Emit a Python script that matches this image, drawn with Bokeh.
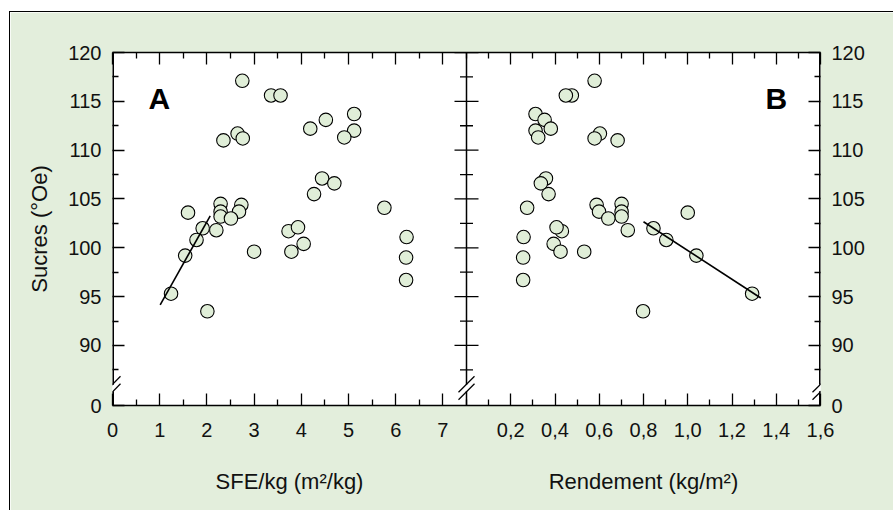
from bokeh.plotting import figure
from bokeh.models import Range1d, LinearAxis, FixedTicker, Label, CustomJSTickFormatter
from bokeh.embed import file_html
from bokeh.resources import INLINE

# ---------------- data ----------------
sfe_kg = [2.75, 3.36, 3.56, 5.12, 4.52, 4.19, 5.12, 4.91, 2.65, 2.76, 2.35, 4.44, 4.70, 4.27,
          5.76, 2.29, 2.29, 2.29, 2.73, 2.68, 2.51, 1.60, 1.91, 2.20, 1.78, 3.73, 3.93, 4.05,
          3.79, 3.00, 6.23, 1.54, 6.22, 6.22, 1.24, 2.01]
rendement = [0.579, 0.476, 0.449, 0.312, 0.353, 0.381, 0.312, 0.324, 0.603, 0.579, 0.683, 0.359,
             0.336, 0.371, 0.274, 0.701, 0.701, 0.701, 0.588, 0.599, 0.641, 1.000, 0.845, 0.729,
             0.903, 0.431, 0.407, 0.394, 0.425, 0.532, 0.258, 1.039, 0.256, 0.256, 1.291, 0.798]
sucres = [117.1, 115.6, 115.6, 113.7, 113.1, 112.2, 112.0, 111.3, 111.7, 111.2, 111.0, 107.1,
          106.6, 105.5, 104.1, 104.5, 103.7, 103.2, 104.4, 103.7, 103.0, 103.6, 102.0, 101.8,
          100.8, 101.7, 102.1, 100.4, 99.6, 99.6, 101.1, 99.2, 99.0, 96.7, 95.3, 93.5]

fitA_x = [1.01, 2.07]
fitA_y = [94.15, 103.28]
fitB_x = [0.80, 1.33]
fitB_y = [102.67, 94.86]

y_ticks = [90, 95, 100, 105, 110, 115, 120]
y_minor = [87.5, 92.5, 97.5, 102.5, 107.5, 112.5, 117.5]
y_break_label = "0"
xa_ticks = [0, 1, 2, 3, 4, 5, 6, 7]
xa_minor = [0.5, 1.5, 2.5, 3.5, 4.5, 5.5, 6.5]
xb_ticks = [0.2, 0.4, 0.6, 0.8, 1.0, 1.2, 1.4, 1.6]
xb_minor = [0.1, 0.3, 0.5, 0.7, 0.9, 1.1, 1.3, 1.5]
xb_labels = ["0,2", "0,4", "0,6", "0,8", "1,0", "1,2", "1,4", "1,6"]
x_titles = ["SFE/kg (m²/kg)", "Rendement (kg/m²)"]
y_title = "Sucres (°Oe)"
panel_letters = ["A", "B"]

XA_MAX = 7.5
XB_MAX = 1.6
Y_MIN = 83.85   # bottom of the broken axis (labelled 0)
Y_MAX = 120

# ---------------- styling / layout ----------------
BG = "#e3eedc"
MARK = "#e0eed8"
FONT = "Liberation Sans"
TICK_FS = "20px"
LAB_FS = "22px"

OX, OY = 10, 12                 # page position of the outer box
FRAME_W, FRAME_H = 708, 353
FL, FT = 112, 52                # page position of the plotting frame
CW, CH = 893 - OX, 510 - OY
BL, BT = FL - OX, FT - OY
BR, BB = CW - BL - FRAME_W, CH - BT - FRAME_H
ppx = FRAME_W / (2 * XA_MAX)
ppy = FRAME_H / (Y_MAX - Y_MIN)


def dx(page_x):
    return (page_x - FL) / ppx


def dy(page_y):
    return Y_MAX - (page_y - FT) / ppy


def b2a(v):
    return XA_MAX + v * XA_MAX / XB_MAX


p = figure(frame_width=FRAME_W, frame_height=FRAME_H,
           min_border_left=BL, min_border_right=BR, min_border_top=BT, min_border_bottom=BB,
           x_range=Range1d(0, 2 * XA_MAX), y_range=Range1d(Y_MIN, Y_MAX),
           x_axis_location=None, y_axis_location=None,
           output_backend="svg", toolbar_location=None)
p.margin = (OY, 0, 0, OX)
p.styles = {"outline": "1.6px solid black"}
p.extra_x_ranges = {"b": Range1d(-XB_MAX, XB_MAX)}
p.grid.visible = False
p.outline_line_color = None
p.border_fill_color = BG
p.background_fill_color = "white"

# ---------------- axes ----------------
bot_pos = list(xa_ticks) + [b2a(v) for v in xb_ticks]
bot_lab = [str(v) for v in xa_ticks] + list(xb_labels)
bot_minor = list(xa_minor) + [XA_MAX] + [b2a(v) for v in xb_minor]
fmt_code = """
for (let i = 0; i < pos.length; i++) { if (Math.abs(pos[i] - tick) < 1e-6) return labs[i]; }
return '';
"""
left_pos = [Y_MIN] + list(y_ticks)
left_lab = [y_break_label] + [str(v) for v in y_ticks]


def style_axis(ax):
    ax.major_tick_in = 12
    ax.major_tick_out = 0
    ax.minor_tick_in = 6
    ax.minor_tick_out = 0
    ax.axis_line_width = 1.5
    ax.axis_line_color = "black"
    ax.major_tick_line_width = 1.3
    ax.minor_tick_line_width = 1.3
    ax.major_tick_line_color = "black"
    ax.minor_tick_line_color = "black"
    ax.major_label_text_font = FONT
    ax.major_label_text_font_size = TICK_FS
    ax.major_label_text_color = "#111111"


bottom = LinearAxis(ticker=FixedTicker(ticks=bot_pos, minor_ticks=bot_minor),
                    formatter=CustomJSTickFormatter(args=dict(pos=bot_pos, labs=bot_lab), code=fmt_code))
style_axis(bottom)
bottom.major_label_standoff = 17
p.add_layout(bottom, "below")

# axis titles of both panels, one under each panel
title_pos = [XA_MAX / 2, b2a(XB_MAX / 2)]
titles = LinearAxis(ticker=FixedTicker(ticks=title_pos, minor_ticks=[]),
                    formatter=CustomJSTickFormatter(args=dict(pos=title_pos, labs=x_titles), code=fmt_code))
titles.axis_line_color = None
titles.major_tick_line_color = None
titles.minor_tick_line_color = None
titles.major_label_text_font = FONT
titles.major_label_text_font_size = LAB_FS
titles.major_label_text_color = "#111111"
titles.major_label_standoff = 23
p.add_layout(titles, "below")

top = LinearAxis(ticker=FixedTicker(ticks=bot_pos, minor_ticks=bot_minor),
                 formatter=CustomJSTickFormatter(code="return '';"))
style_axis(top)
top.major_label_standoff = 0
p.add_layout(top, "above")

for side in ("left", "right"):
    ax = LinearAxis(ticker=FixedTicker(ticks=left_pos, minor_ticks=y_minor),
                    formatter=CustomJSTickFormatter(args=dict(pos=left_pos, labs=left_lab), code=fmt_code))
    style_axis(ax)
    ax.axis_line_color = None      # drawn below, with the break gap
    ax.major_label_standoff = 11
    if side == "left":
        ax.axis_label = y_title
        ax.axis_label_text_font = FONT
        ax.axis_label_text_font_size = LAB_FS
        ax.axis_label_text_font_style = "normal"
        ax.axis_label_text_color = "#111111"
        ax.axis_label_standoff = 13
    p.add_layout(ax, side)

# ---------------- vertical axis lines with breaks, divider ticks ----------------
BRK = (383.8, 391.3)                  # page y of the two break strokes
gap_hi, gap_lo = dy(BRK[0] + 0.5), dy(BRK[1] - 0.5)
for xa, w in ((0.0, 3.0), (XA_MAX, 1.5), (2 * XA_MAX, 3.0)):
    p.segment(x0=[xa, xa], y0=[Y_MIN, gap_hi], x1=[xa, xa], y1=[gap_lo, Y_MAX],
              line_color="black", line_width=w)
    cx = FL + xa * ppx
    for c in BRK:
        p.segment(x0=[dx(cx - 8)], y0=[dy(c + 8)], x1=[dx(cx + 8)], y1=[dy(c - 8)],
                  line_color="black", line_width=1.3)

p.segment(x0=[XA_MAX - 12 / ppx] * len(y_ticks), y0=y_ticks,
          x1=[XA_MAX + 12 / ppx] * len(y_ticks), y1=y_ticks, line_color="black", line_width=1.3)
p.segment(x0=[XA_MAX - 6.5 / ppx] * len(y_minor), y0=y_minor,
          x1=[XA_MAX + 6.5 / ppx] * len(y_minor), y1=y_minor, line_color="black", line_width=1.3)

# ---------------- data marks ----------------
p.scatter(sfe_kg, sucres, size=13.5, fill_color=MARK, line_color="black", line_width=1.1)
p.scatter(rendement, sucres, size=13.5, fill_color=MARK, line_color="black", line_width=1.1,
          x_range_name="b")
p.line(fitA_x, fitA_y, line_color="black", line_width=1.6)
p.line(fitB_x, fitB_y, line_color="black", line_width=1.6, x_range_name="b")

# ---------------- panel letters ----------------
for letter, px in zip(panel_letters, (148, 765)):
    p.add_layout(Label(x=dx(px), y=dy(98), text=letter, text_font=FONT, text_font_size="30px",
                       text_font_style="bold", text_baseline="middle", text_color="black"))

open("out.html", "w").write(file_html(p, INLINE))
